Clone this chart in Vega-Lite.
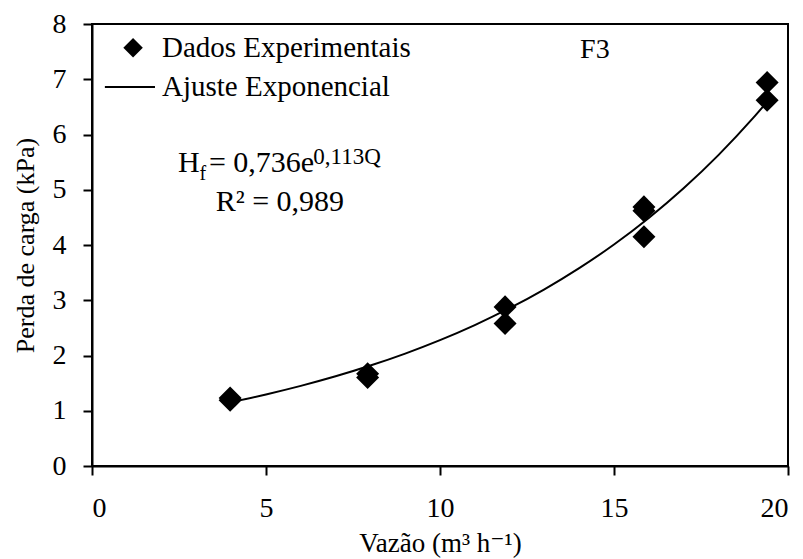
{
  "$schema": "https://vega.github.io/schema/vega-lite/v6.json",
  "width": 696,
  "height": 442,
  "autosize": "none",
  "padding": {"left": 92, "top": 24, "right": 15, "bottom": 93},
  "background": "white",
  "config": {
    "font": "Liberation Serif, Times New Roman, DejaVu Serif, serif",
    "view": {"stroke": "black", "strokeWidth": 2},
    "text": {"font": "Liberation Serif, Times New Roman, DejaVu Serif, serif"},
    "axis": {
      "grid": false,
      "domainColor": "black",
      "domainWidth": 2,
      "tickColor": "black",
      "tickWidth": 2,
      "tickSize": 9,
      "labelColor": "black",
      "labelFont": "Liberation Serif, Times New Roman, DejaVu Serif, serif",
      "labelFontSize": 28,
      "titleColor": "black",
      "titleFont": "Liberation Serif, Times New Roman, DejaVu Serif, serif",
      "titleFontSize": 26,
      "titleFontWeight": "normal"
    }
  },
  "datasets": {
    "obs": [
      {"Q": 3.97, "H": 1.23},
      {"Q": 3.97, "H": 1.19},
      {"Q": 7.92, "H": 1.67},
      {"Q": 7.92, "H": 1.6},
      {"Q": 11.87, "H": 2.88},
      {"Q": 11.87, "H": 2.58},
      {"Q": 15.86, "H": 4.69},
      {"Q": 15.86, "H": 4.62},
      {"Q": 15.86, "H": 4.15},
      {"Q": 19.4, "H": 6.94},
      {"Q": 19.4, "H": 6.62}
    ],
    "fit": [
      {"Q": 4, "H": 1.157},
      {"Q": 5, "H": 1.295},
      {"Q": 6, "H": 1.45},
      {"Q": 7, "H": 1.623},
      {"Q": 8, "H": 1.818},
      {"Q": 9, "H": 2.035},
      {"Q": 10, "H": 2.278},
      {"Q": 11, "H": 2.551},
      {"Q": 12, "H": 2.856},
      {"Q": 13, "H": 3.198},
      {"Q": 14, "H": 3.581},
      {"Q": 15, "H": 4.009},
      {"Q": 16, "H": 4.489},
      {"Q": 17, "H": 5.026},
      {"Q": 18, "H": 5.627},
      {"Q": 19, "H": 6.3},
      {"Q": 19.4, "H": 6.591}
    ],
    "legsym": [{"Q": 1.18, "H": 7.57}],
    "legline": [{"Q": 0.37, "Q2": 1.81, "H": 6.86}],
    "texts": [
      {"Q": 2.01, "H": 7.57, "t": "Dados Experimentais"},
      {"Q": 2.01, "H": 6.86, "t": "Ajuste Exponencial"}
    ]
  },
  "layer": [
    {
      "data": {"name": "fit"},
      "mark": {"type": "line", "color": "black", "strokeWidth": 2, "interpolate": "monotone"},
      "encoding": {
        "x": {"field": "Q", "type": "quantitative", "scale": {"domain": [0, 20], "nice": false},
          "axis": {"values": [0, 5, 10, 15, 20], "title": "Vazão (m³ h⁻¹)", "titleFontSize": 27, "labelPadding": 19, "titlePadding": 8}},
        "y": {"field": "H", "type": "quantitative", "scale": {"domain": [0, 8], "nice": false},
          "axis": {"values": [0, 1, 2, 3, 4, 5, 6, 7, 8], "format": "d", "title": "Perda de carga (kPa)", "labelPadding": 17, "titlePadding": 14}}
      }
    },
    {
      "data": {"name": "obs"},
      "mark": {"type": "point", "shape": "diamond", "filled": true, "color": "black", "size": 530, "opacity": 1},
      "encoding": {
        "x": {"field": "Q", "type": "quantitative"},
        "y": {"field": "H", "type": "quantitative"}
      }
    },
    {
      "data": {"name": "legsym"},
      "mark": {"type": "point", "shape": "diamond", "filled": true, "color": "black", "size": 380, "opacity": 1},
      "encoding": {
        "x": {"field": "Q", "type": "quantitative"},
        "y": {"field": "H", "type": "quantitative"}
      }
    },
    {
      "data": {"name": "legline"},
      "mark": {"type": "rule", "color": "black", "strokeWidth": 2},
      "encoding": {
        "x": {"field": "Q", "type": "quantitative"},
        "x2": {"field": "Q2"},
        "y": {"field": "H", "type": "quantitative"}
      }
    },
    {
      "data": {"name": "texts"},
      "mark": {"type": "text", "align": "left", "baseline": "middle", "fontSize": 29, "color": "black"},
      "encoding": {
        "x": {"field": "Q", "type": "quantitative"},
        "y": {"field": "H", "type": "quantitative"},
        "text": {"field": "t"}
      }
    },
    {
      "data": {"values": [{"Q": 14.45, "H": 7.53, "t": "F3"}]},
      "mark": {"type": "text", "align": "center", "baseline": "middle", "fontSize": 28, "color": "black"},
      "encoding": {
        "x": {"field": "Q", "type": "quantitative"},
        "y": {"field": "H", "type": "quantitative"},
        "text": {"field": "t"}
      }
    },
    {
      "data": {"values": [
        {"Q": 2.47, "H": 5.32, "t": "H"},
        {"Q": 3.36, "H": 5.32, "t": "= 0,736e"}
      ]},
      "mark": {"type": "text", "align": "left", "baseline": "alphabetic", "fontSize": 30, "color": "black"},
      "encoding": {
        "x": {"field": "Q", "type": "quantitative"},
        "y": {"field": "H", "type": "quantitative"},
        "text": {"field": "t"}
      }
    },
    {
      "data": {"values": [
        {"Q": 5.4, "H": 4.62, "t": "R² = 0,989"}
      ]},
      "mark": {"type": "text", "align": "center", "baseline": "alphabetic", "fontSize": 30, "color": "black"},
      "encoding": {
        "x": {"field": "Q", "type": "quantitative"},
        "y": {"field": "H", "type": "quantitative"},
        "text": {"field": "t"}
      }
    },
    {
      "data": {"values": [
        {"Q": 3.09, "H": 5.18, "t": "f"}
      ]},
      "mark": {"type": "text", "align": "left", "baseline": "alphabetic", "fontSize": 20, "color": "black"},
      "encoding": {
        "x": {"field": "Q", "type": "quantitative"},
        "y": {"field": "H", "type": "quantitative"},
        "text": {"field": "t"}
      }
    },
    {
      "data": {"values": [
        {"Q": 6.36, "H": 5.46, "t": "0,113Q"}
      ]},
      "mark": {"type": "text", "align": "left", "baseline": "alphabetic", "fontSize": 23, "color": "black"},
      "encoding": {
        "x": {"field": "Q", "type": "quantitative"},
        "y": {"field": "H", "type": "quantitative"},
        "text": {"field": "t"}
      }
    }
  ]
}
